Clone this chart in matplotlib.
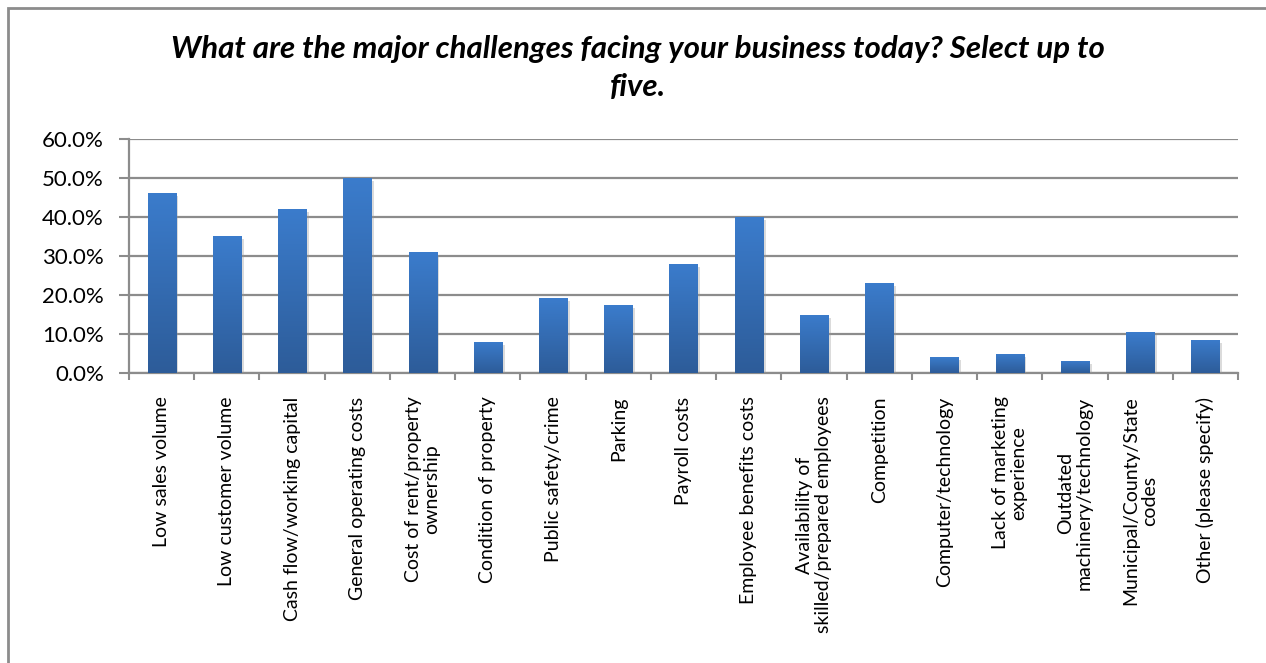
import numpy as np
import matplotlib.pyplot as plt
from matplotlib.colors import LinearSegmentedColormap
from matplotlib.patches import Rectangle
import matplotlib.patheffects as pe
from matplotlib.ticker import PercentFormatter

plt.rcParams['font.family'] = ['Lato', 'DejaVu Sans']

challenges = [
    "Low sales volume",
    "Low customer volume",
    "Cash flow/working capital",
    "General operating costs",
    "Cost of rent/property\nownership",
    "Condition of property",
    "Public safety/crime",
    "Parking",
    "Payroll costs",
    "Employee benefits costs",
    "Availability of\nskilled/prepared employees",
    "Competition",
    "Computer/technology",
    "Lack of marketing\nexperience",
    "Outdated\nmachinery/technology",
    "Municipal/County/State\ncodes",
    "Other (please specify)",
]
share = [46.2, 35.1, 42.1, 49.9, 31.0, 8.0, 19.2, 17.4, 28.0, 40.0,
         14.9, 23.1, 4.1, 4.9, 3.1, 10.5, 8.5]

grid_col = "#8c8c8c"
blue_grad = LinearSegmentedColormap.from_list("bars", ["#2d5c99", "#3b7ccc"])

fig = plt.figure(figsize=(12.66, 6.63), dpi=100)
fig.patches.append(Rectangle((8 / 1266, -0.1), 1.2, 1.1 - 8 / 663,
                             transform=fig.transFigure, fill=False,
                             edgecolor="#8c8c8c", linewidth=2))

ax = fig.add_axes([129 / 1266, 1 - 373 / 663, (1238 - 129) / 1266, (373 - 139) / 663])

x = np.arange(len(share))
bars = ax.bar(x, share, width=0.43, color="#3366aa", zorder=3,
              path_effects=[pe.SimplePatchShadow(offset=(2, -2), shadow_rgbFace="#999999", alpha=0.35),
                            pe.Normal()])

# vertical gradient inside every bar
grad = np.linspace(0, 1, 256).reshape(-1, 1)
for b in bars:
    x0, w, h = b.get_x(), b.get_width(), b.get_height()
    im = ax.imshow(grad, cmap=blue_grad, origin="lower", aspect="auto",
                   extent=[x0, x0 + w, 0, h], zorder=4)
    im.set_clip_path(b)

ax.set_xlim(-0.5, len(share) - 0.5)
ax.set_ylim(0, 60)
ax.set_yticks(np.arange(0, 61, 10))
ax.yaxis.set_major_formatter(PercentFormatter(decimals=1))
ax.grid(axis="y", color=grid_col, linewidth=1.6, zorder=1)
ax.set_axisbelow(True)

ax.set_xticks(x)
ax.set_xticklabels(challenges, rotation=90, ha="center", va="top",
                   multialignment="center", fontsize=14, linespacing=1.1)
ax.set_xticks(np.arange(-0.5, len(share)), minor=True)
ax.tick_params(axis="x", which="major", length=0, pad=17)
ax.tick_params(axis="x", which="minor", length=5, color=grid_col, width=1.5)
ax.tick_params(axis="y", length=7, color=grid_col, width=1.5, pad=11, labelsize=16)

for side in ["top", "right"]:
    ax.spines[side].set_visible(False)
for side in ["left", "bottom"]:
    ax.spines[side].set_color(grid_col)
    ax.spines[side].set_linewidth(1.6)

fig.text(0.504, 1 - 68 / 663,
         "What are the major challenges facing your business today? Select up to\nfive.",
         ha="center", va="center", fontsize=22.5, fontweight="bold", fontstyle="italic",
         linespacing=1.45)

fig.savefig("out.png", dpi=100)
